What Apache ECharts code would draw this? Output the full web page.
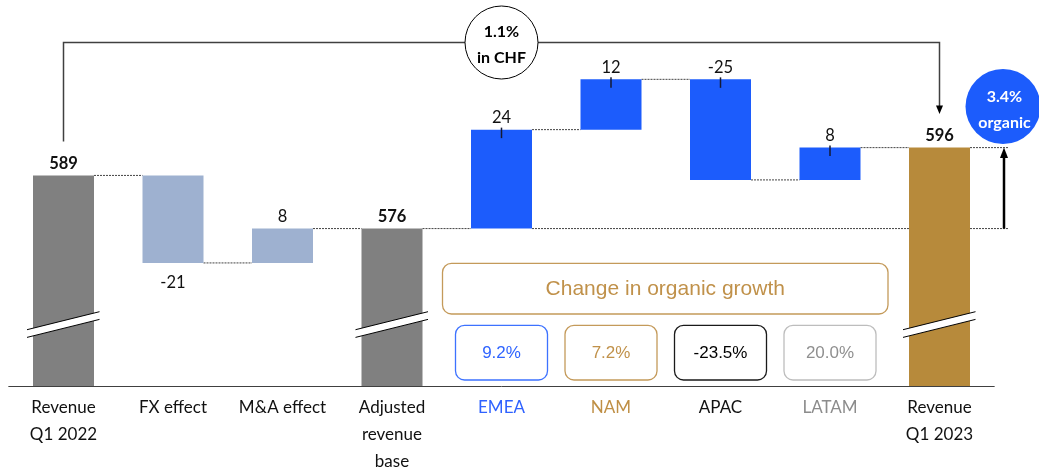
<!DOCTYPE html>
<html><head><meta charset="utf-8">
<script src="https://cdn.jsdelivr.net/npm/echarts@6/dist/echarts.min.js"></script>
<style>html,body{margin:0;padding:0;background:#fff}#c{width:1039px;height:475px}</style>
</head><body><div id="c"></div>
<script>
// ---- data ----
const categories = ['Revenue\nQ1 2022','FX effect','M&A effect','Adjusted\nrevenue\nbase','EMEA','NAM','APAC','LATAM','Revenue\nQ1 2023'];
const values = [589, -21.4, 8.4, 576, 24.2, 12.3, -24.6, 7.9, 595.8];
const isTotal = [true, false, false, true, false, false, false, false, true];
const valueLabels = ['589','-21','8','576','24','12','-25','8','596'];
const growthValues = ['9.2%','7.2%','-23.5%','20.0%'];
const growthTitle = 'Change in organic growth';
const chfGrowth = ['1.1%','in CHF'];
const organicGrowth = ['3.4%','organic'];

// ---- styles ----
const Y_MIN = 537.5, Y_MAX = 627.5;
const BAR_W = 61, HALF = BAR_W / 2;
const FONT = 'Lato';
const ARIAL = 'Liberation Sans';
const barColors = ['#808080','#9eb1d0','#9eb1d0','#808080','#1c5cfc','#1c5cfc','#1c5cfc','#1c5cfc','#b78a3b'];
const catLabelColors = ['#111','#111','#111','#111','#2f62ff','#bf8f45','#111','#8c8c8c','#111'];
const boxStroke = ['#3d72ff','#c49a5a','#1a1a1a','#bdbdbd'];
const boxText = ['#2f64ff','#c0914a','#000','#8f8f8f'];

// ---- derived waterfall geometry (from values) ----
let run = 0;
const low = [], high = [], levelAfter = [];
values.forEach((v, i) => {
  if (isTotal[i]) { low.push(Y_MIN); high.push(v); run = v; }
  else { const a = run, b = run + v; low.push(Math.min(a, b)); high.push(Math.max(a, b)); run = b; }
  levelAfter.push(run);
});
const connectors = [];
for (let i = 0; i < values.length - 1; i++) connectors.push([i, i + 1, levelAfter[i], 0]);
connectors.push([4, 8, levelAfter[3], 38]);
connectors.push([8, 8, levelAfter[8], 38]);
const tickData = [];
values.forEach((v, i) => { if (!isTotal[i] && i >= 4) tickData.push([i, high[i]]); });
const breakData = [];
isTotal.forEach((t, i) => { if (t) breakData.push([i, Y_MIN]); });

const chart = echarts.init(document.getElementById('c'), null, {renderer: 'canvas'});
chart.setOption({
  animation: false,
  backgroundColor: '#fff',
  grid: {left: 8.75, width: 985.5, top: 18, height: 371.5},
  xAxis: {
    type: 'category', data: categories,
    axisTick: {show: false},
    axisLine: {lineStyle: {color: '#404040', width: 1}},
    axisLabel: {interval: 0, fontFamily: FONT, fontSize: 17, lineHeight: 27, margin: 8,
      color: (v, i) => catLabelColors[i]}
  },
  yAxis: {type: 'value', min: Y_MIN, max: Y_MAX, show: false, splitLine: {show: false}},
  series: [
    {type: 'custom', z: 1, encode: {x: 0, y: 2}, data: connectors, silent: true,
      renderItem(params, api) {
        const from = api.value(0), to = api.value(1), lvl = api.value(2), tail = api.value(3);
        const p1 = api.coord([from, lvl]), p2 = api.coord([to, lvl]);
        const x1 = p1[0] + HALF;
        const x2 = tail > 0 ? p2[0] + HALF + tail : p2[0] - HALF;
        return {type: 'line', shape: {x1, y1: p1[1], x2, y2: p1[1]},
          style: {stroke: '#444', lineWidth: 1, lineDash: [2, 1]}};
      }},
    {type: 'bar', stack: 'w', z: 2, barWidth: BAR_W, silent: true,
      itemStyle: {color: 'transparent'}, data: low},
    {type: 'bar', stack: 'w', z: 2, barWidth: BAR_W, silent: true,
      data: values.map((v, i) => ({
        value: high[i] - low[i],
        itemStyle: {color: barColors[i]},
        label: {show: true, position: i === 1 ? 'bottom' : 'top', distance: i === 1 ? 11 : 3,
          formatter: () => valueLabels[i], fontFamily: FONT, fontSize: 16.5,
          fontWeight: isTotal[i] ? 'bold' : 'normal', color: '#111'}
      }))},
    {type: 'custom', z: 3, encode: {x: 0, y: 1}, data: tickData, silent: true,
      renderItem(params, api) {
        const p = api.coord([api.value(0), api.value(1)]);
        return {type: 'line', shape: {x1: p[0], y1: p[1] - 2, x2: p[0], y2: p[1] + 8.5},
          style: {stroke: '#151a33', lineWidth: 1.5}};
      }},
    {type: 'custom', z: 4, encode: {x: 0, y: 1}, data: breakData, silent: true, clip: false,
      renderItem(params, api) {
        const p = api.coord([api.value(0), api.value(1)]);
        const cx = p[0], y0 = p[1];
        const L = cx - 36.5, R = cx + 36;
        return {type: 'group', children: [
          {type: 'polygon', shape: {points: [[L, y0 - 56.3], [R, y0 - 74.3], [R, y0 - 66.6], [L, y0 - 48.6]]},
            style: {fill: '#fff'}},
          {type: 'line', shape: {x1: L, y1: y0 - 56.3, x2: R, y2: y0 - 74.3}, style: {stroke: '#000', lineWidth: 1}},
          {type: 'line', shape: {x1: L, y1: y0 - 48.6, x2: R, y2: y0 - 66.6}, style: {stroke: '#000', lineWidth: 1}}
        ]};
      }}
  ]
});

// ---- annotations positioned from the chart's own scales ----
const px = (i, v) => chart.convertToPixel({gridIndex: 0}, [i, v]);
const cx = i => px(i, Y_MIN)[0];
const yv = v => px(0, v)[1];
const TOP_Y = 42.5;
const g = [];
const startX = cx(0), endX = cx(8);
g.push({type: 'polyline', z: 10, shape: {points: [[startX, yv(values[0]) - 34], [startX, TOP_Y], [endX, TOP_Y], [endX, yv(values[8]) - 41]]},
  style: {stroke: '#404040', lineWidth: 1.5, fill: null}});
g.push({type: 'polygon', z: 10, shape: {points: [[endX - 3.5, yv(values[8]) - 42], [endX + 3.5, yv(values[8]) - 42], [endX, yv(values[8]) - 33.5]]},
  style: {fill: '#000'}});
g.push({type: 'circle', z: 11, shape: {cx: cx(4), cy: TOP_Y, r: 36.5}, style: {fill: '#fff', stroke: '#000', lineWidth: 1}});
g.push({type: 'text', z: 12, x: cx(4), y: TOP_Y - 10.5, style: {text: chfGrowth[0], fontFamily: FONT, fontSize: 16, fontWeight: 'bold', fill: '#000', align: 'center', verticalAlign: 'middle'}});
g.push({type: 'text', z: 12, x: cx(4), y: TOP_Y + 15.5, style: {text: chfGrowth[1], fontFamily: FONT, fontSize: 16, fontWeight: 'bold', fill: '#000', align: 'center', verticalAlign: 'middle'}});
const arrowX = cx(8) + 64.5;
g.push({type: 'circle', z: 11, shape: {cx: cx(8) + 63.5, cy: 106.5, r: 37.5}, style: {fill: '#1c5cfc'}});
g.push({type: 'text', z: 12, x: cx(8) + 65, y: 96.5, style: {text: organicGrowth[0], fontFamily: FONT, fontSize: 16, fontWeight: 'bold', fill: '#fff', align: 'center', verticalAlign: 'middle'}});
g.push({type: 'text', z: 12, x: cx(8) + 65, y: 122.5, style: {text: organicGrowth[1], fontFamily: FONT, fontSize: 16, fontWeight: 'bold', fill: '#fff', align: 'center', verticalAlign: 'middle'}});
const yBase = yv(levelAfter[3]), yEnd = yv(values[8]);
g.push({type: 'line', z: 10, shape: {x1: arrowX, y1: yBase, x2: arrowX, y2: yEnd + 8}, style: {stroke: '#000', lineWidth: 2.5}});
g.push({type: 'polygon', z: 10, shape: {points: [[arrowX - 4, yEnd + 10.5], [arrowX + 4, yEnd + 10.5], [arrowX, yEnd]]}, style: {fill: '#000'}});
const bL = cx(4) - 59, bR = cx(7) + 58;
g.push({type: 'rect', z: 10, shape: {x: bL, y: 263.3, width: bR - bL, height: 50.7, r: 9}, style: {fill: '#fff', stroke: '#c49a5a', lineWidth: 1.3}});
g.push({type: 'text', z: 11, x: (bL + bR) / 2, y: 289, style: {text: growthTitle, fontFamily: ARIAL, fontSize: 21, fill: '#c0914a', align: 'center', verticalAlign: 'middle'}});
growthValues.forEach((t, k) => {
  const c = cx(4 + k);
  g.push({type: 'rect', z: 10, shape: {x: c - 46, y: 325.3, width: 92, height: 54.7, r: 9}, style: {fill: '#fff', stroke: boxStroke[k], lineWidth: 1.3}});
  g.push({type: 'text', z: 11, x: c, y: 353, style: {text: t, fontFamily: ARIAL, fontSize: 17, fill: boxText[k], align: 'center', verticalAlign: 'middle'}});
});
chart.setOption({graphic: g});
</script></body></html>
